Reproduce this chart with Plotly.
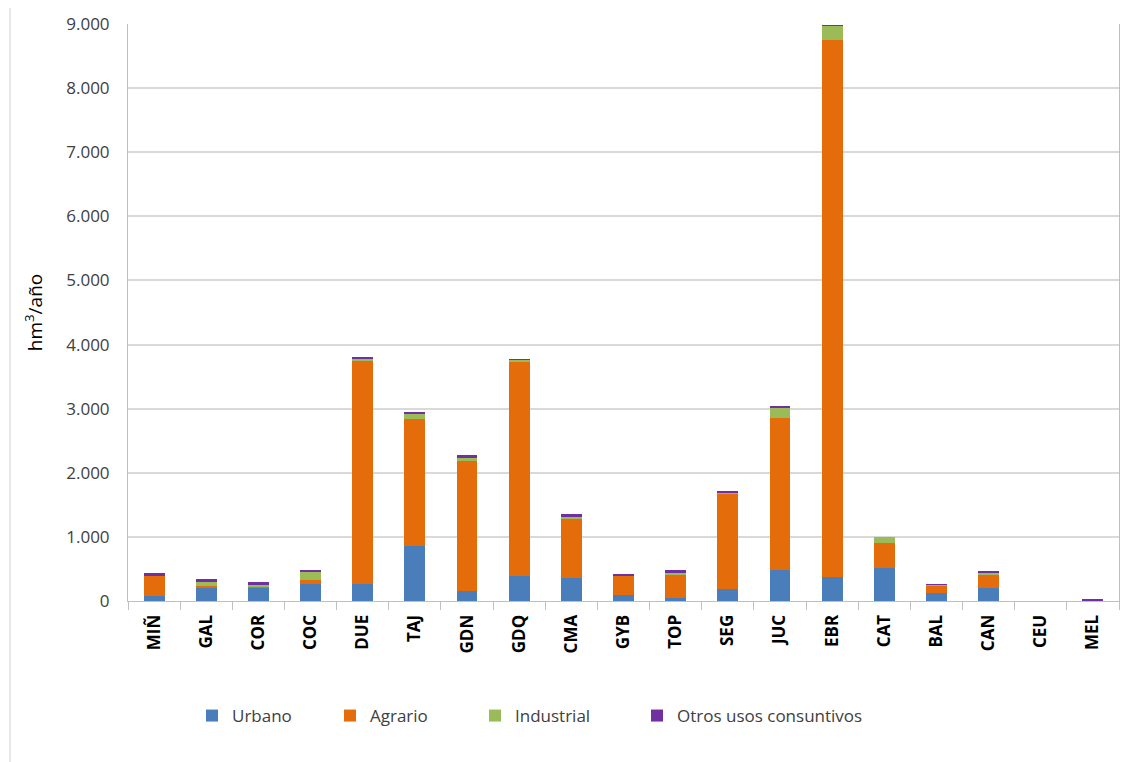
import plotly.graph_objects as go

categorias = ["MIÑ", "GAL", "COR", "COC", "DUE", "TAJ", "GDN", "GDQ", "CMA", "GYB",
              "TOP", "SEG", "JUC", "EBR", "CAT", "BAL", "CAN", "CEU", "MEL"]
urbano = [80, 200, 215, 265, 270, 865, 160, 385, 360, 95, 40, 180, 485, 380, 520, 120, 200, 0, 0]
agrario = [310, 40, 10, 65, 3470, 1980, 2020, 3350, 930, 300, 360, 1490, 2370, 8370, 385, 120, 220, 0, 0]
industrial = [15, 70, 35, 130, 35, 65, 65, 25, 30, 10, 50, 10, 155, 220, 100, 10, 20, 0, 0]
otros = [25, 30, 30, 30, 35, 40, 25, 10, 30, 20, 30, 40, 35, 5, 0, 15, 20, 0, 18]

series = [
    ("Urbano", urbano, "#4A7EBB"),
    ("Agrario", agrario, "#E46C0A"),
    ("Industrial", industrial, "#9BBB59"),
    ("Otros usos consuntivos", otros, "#7030A0"),
]

# page is drawn with an 8px body margin: work in page pixels, convert to figure pixels
OFF = 8
W, H = 1142 - OFF, 762 - OFF
PL, PR, PT, PB = 128, 1119, 24, 601  # plot area in page pixels
L, T = PL - OFF, PT - OFF
R, B = W - (PR - OFF), H - (PB - OFF)
pw, ph = PR - PL, PB - PT

def px_x(x):
    return (x - PL) / pw

def px_y(y):
    return (PB - y) / ph

legend_text_x = [232, 370, 515, 677]
legend_names = ["legend2", "legend3", "legend4", "legend5"]

fig = go.Figure()
for (nombre, vals, color), lg in zip(series, legend_names):
    fig.add_trace(go.Bar(x=categorias, y=vals, name=nombre, legend=lg,
                         marker=dict(color=color, line=dict(width=0))))

layout_legends = {}
for lg, tx in zip(legend_names, legend_text_x):
    layout_legends[lg] = dict(
        orientation="h", yanchor="middle", xanchor="left",
        x=px_x(tx - 40), y=px_y(716),
        font=dict(size=17, color="#404040",
                  family="Open Sans, Liberation Sans, sans-serif"),
        bgcolor="rgba(0,0,0,0)", itemwidth=30)

fig.update_layout(
    width=W, height=H,
    barmode="stack", bargap=0.6,
    showlegend=True,
    margin=dict(l=L, r=R, t=T, b=B, autoexpand=False),
    paper_bgcolor="white", plot_bgcolor="white",
    font=dict(family="Open Sans, Liberation Sans, sans-serif", size=15, color="#404040"),
    xaxis=dict(showgrid=False, showline=True, linecolor="#bfbfbf", linewidth=1,
               ticks="outside", tickson="boundaries", ticklen=8, tickcolor="#bfbfbf",
               tickangle=-90, ticklabelstandoff=6, automargin=False,
               tickfont=dict(size=17, color="#000000",
                             family="Open Sans, Liberation Sans, sans-serif", weight="bold"),
               fixedrange=True),
    yaxis=dict(range=[0, 9000], dtick=1000, tickformat=",d", automargin=False,
               showgrid=True, gridcolor="#d9d9d9", gridwidth=1.5,
               showline=True, linecolor="#bfbfbf", mirror=True, zeroline=False,
               ticks="", ticklabelstandoff=14,
               tickfont=dict(size=17, color="#404040"),
               title=dict(text="hm<sup>3</sup>/año", font=dict(size=19, color="#000000"), standoff=18)),
    separators=",.",
    shapes=[dict(type="line", xref="paper", yref="paper",
                 x0=px_x(10), x1=px_x(10), y0=px_y(762), y1=px_y(0),
                 line=dict(color="#d0d0d0", width=1), layer="below")],
    **layout_legends,
)

fig.write_html("out.html")
